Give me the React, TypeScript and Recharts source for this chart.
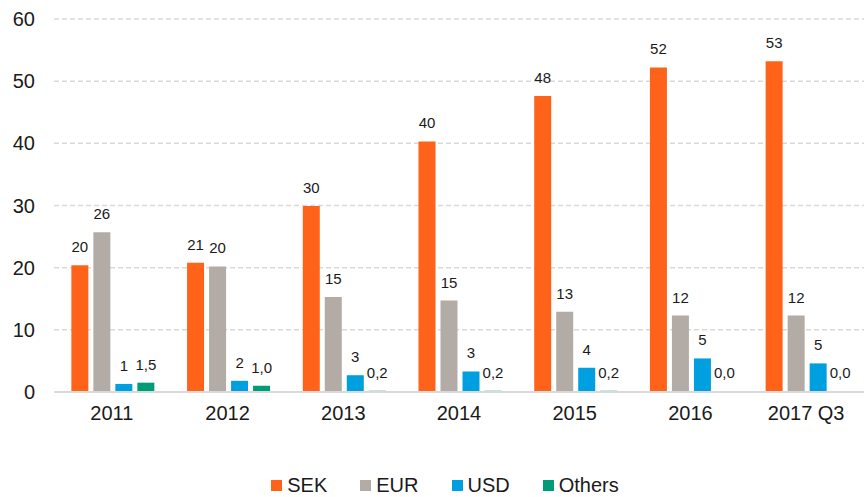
import { BarChart, Bar, XAxis, YAxis, CartesianGrid, Legend, LabelList } from 'recharts';

const categories = ['2011', '2012', '2013', '2014', '2015', '2016', '2017 Q3'];
const sek = [20.4, 20.8, 29.9, 40.3, 47.6, 52.2, 53.2];
const eur = [25.7, 20.2, 15.3, 14.7, 12.9, 12.3, 12.3];
const usd = [1.3, 1.8, 2.7, 3.3, 3.9, 5.4, 4.6];
const others = [1.5, 1.0, 0.2, 0.2, 0.2, 0.0, 0.0];
const yTicks = [0, 10, 20, 30, 40, 50, 60];

const seriesNames = ['SEK', 'EUR', 'USD', 'Others'];
const seriesColors = ['#ff6319', '#b3aca6', '#009fdf', '#009b77'];

const data = categories.map((name, i) => ({
  name,
  SEK: sek[i],
  EUR: eur[i],
  USD: usd[i],
  Others: others[i],
}));

const FONT = '"Liberation Sans", Arial, sans-serif';

const wholeNumber = (v: any) => String(Math.round(Number(v)));
const oneDecimal = (v: any) => Number(v).toFixed(1).replace('.', ',');

const labelStyle = { fontSize: 15, fill: '#1a1a1a', fontFamily: FONT };

const LegendContent = () => (
  <div
    style={{
      display: 'flex',
      justifyContent: 'center',
      paddingLeft: 26,
      paddingTop: 7,
      fontFamily: FONT,
      fontSize: 20,
      color: '#1a1a1a',
    }}
  >
    {seriesNames.map((name, i) => (
      <div
        key={name}
        style={{
          display: 'flex',
          alignItems: 'center',
          marginRight: i < seriesNames.length - 1 ? 33 : 0,
        }}
      >
        <span
          style={{
            display: 'inline-block',
            width: 11,
            height: 11,
            background: seriesColors[i],
            marginRight: 5,
          }}
        />
        <span>{name}</span>
      </div>
    ))}
  </div>
);

export default function App() {
  return (
    <div style={{ position: 'absolute', left: 0, top: 0, background: '#fff', fontFamily: FONT }}>
      <BarChart
        width={864}
        height={497}
        data={data}
        margin={{ top: 19, right: 0, bottom: 0, left: 0 }}
        barCategoryGap="15%"
        barGap={5}
      >
        <CartesianGrid vertical={false} stroke="#d9d9d9" strokeDasharray="5 3" strokeWidth={1.5} />
        <XAxis
          dataKey="name"
          height={75}
          tickSize={0}
          tickMargin={14}
          axisLine={{ stroke: '#d9d9d9', strokeWidth: 2 }}
          tick={{ fontSize: 20, fill: '#1a1a1a', fontFamily: FONT }}
        />
        <YAxis
          width={54}
          domain={[0, 60]}
          ticks={yTicks}
          tickSize={0}
          tickMargin={19}
          axisLine={false}
          tickLine={false}
          tick={{ fontSize: 20, fill: '#1a1a1a', fontFamily: FONT }}
        />
        <Legend verticalAlign="bottom" content={<LegendContent />} />
        <Bar dataKey="SEK" fill={seriesColors[0]} isAnimationActive={false}>
          <LabelList dataKey="SEK" position="top" offset={13} formatter={wholeNumber} style={labelStyle} />
        </Bar>
        <Bar dataKey="EUR" fill={seriesColors[1]} isAnimationActive={false}>
          <LabelList dataKey="EUR" position="top" offset={13} formatter={wholeNumber} style={labelStyle} />
        </Bar>
        <Bar dataKey="USD" fill={seriesColors[2]} isAnimationActive={false}>
          <LabelList dataKey="USD" position="top" offset={13} formatter={wholeNumber} style={labelStyle} />
        </Bar>
        <Bar dataKey="Others" fill={seriesColors[3]} minPointSize={1} isAnimationActive={false}>
          <LabelList dataKey="Others" position="top" offset={13} formatter={oneDecimal} style={labelStyle} />
        </Bar>
      </BarChart>
    </div>
  );
}
